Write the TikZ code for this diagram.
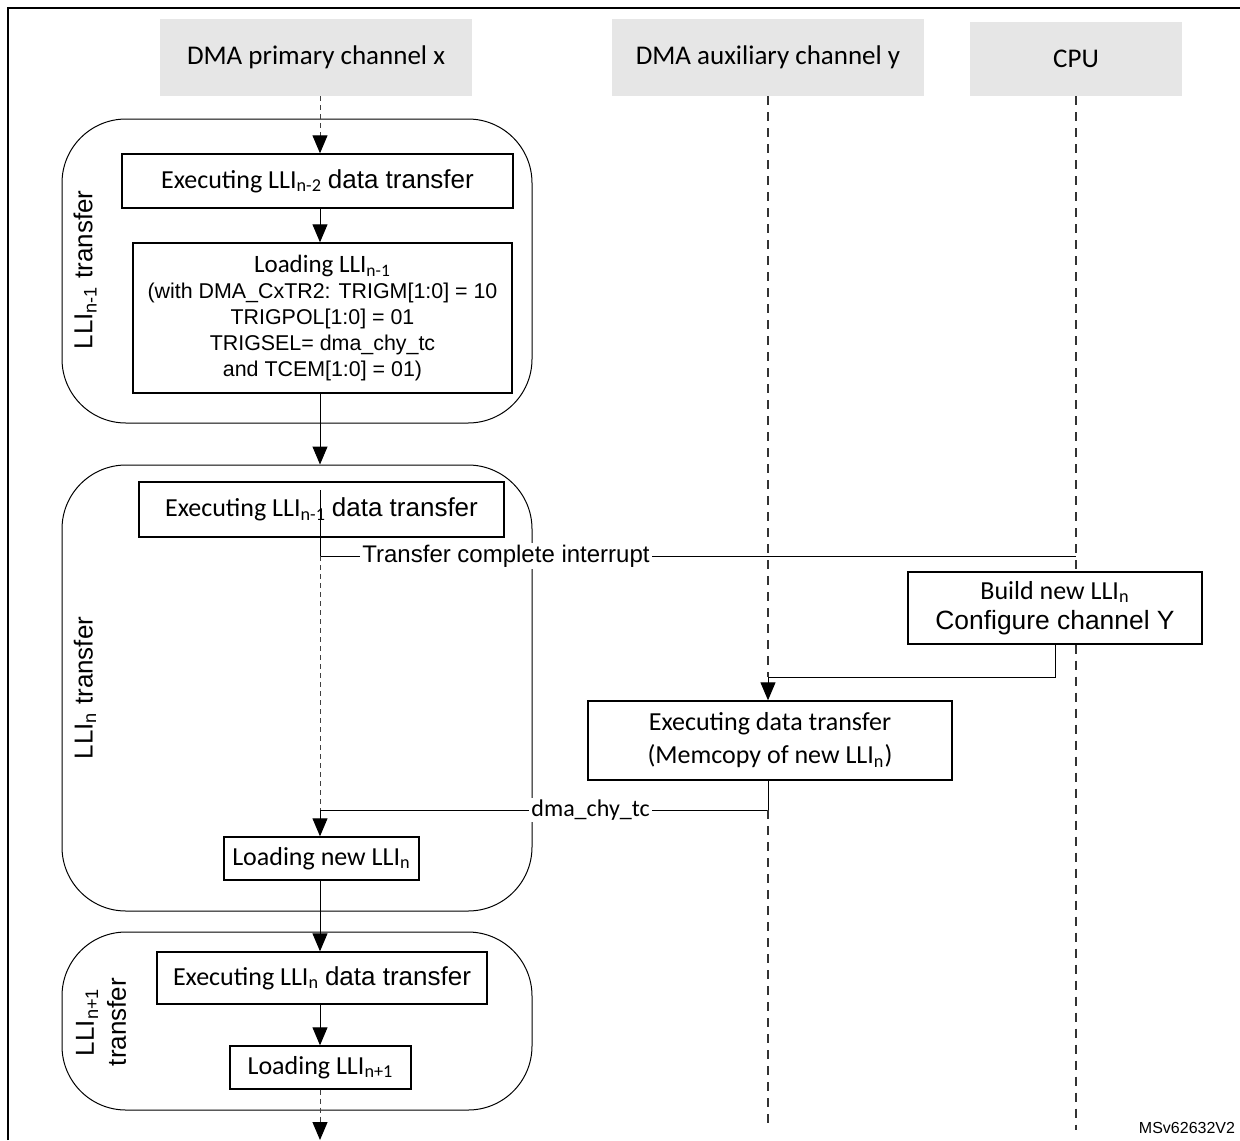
\documentclass[tikz,border=0pt]{standalone}
\usepackage{fontspec}
\setmainfont{Carlito}
\newfontfamily\arialfont{Liberation Sans}
\usetikzlibrary{arrows.meta,positioning}
\definecolor{hdrgray}{RGB}{230,230,230}
\tikzset{
  hdr/.style={fill=hdrgray, inner sep=0pt, font=\fontsize{13.5}{16}\selectfont},
  stepbox/.style={draw, fill=white, line width=0.7pt, inner sep=0pt, align=center, font=\fontsize{13}{16}\selectfont},
  phase/.style={draw, rounded corners=32pt, line width=0.5pt},
  life/.style={dash pattern=on 4.5pt off 3.5pt, line width=0.6pt, black!80},
  thinlife/.style={dash pattern=on 2.5pt off 2pt, line width=0.45pt, black!75},
  flow/.style={-{Triangle[length=9pt,width=7.5pt,color=black]}, line width=0.5pt},
  sig/.style={fill=white, inner sep=1pt, font=\arialfont\fontsize{12}{14}\selectfont},
  phaselbl/.style={rotate=90, align=center, font=\arialfont\fontsize{13}{16}\selectfont},
}
\begin{document}
\begin{tikzpicture}[x=0.5pt,y=-0.5pt]
\useasboundingbox (0,0) rectangle (1240,1140);
% frame
\draw[line width=1.1pt] (8,1140) -- (8,8) -- (1240,8);
% lanes
\node[hdr, minimum width=156pt, minimum height=38.5pt] (hx) at (316,57.5) {DMA primary channel x};
\node[hdr, minimum width=156pt, minimum height=38.5pt] (hy) at (768,57.5) {DMA auxiliary channel y};
\node[hdr, minimum width=106pt, minimum height=37pt] (hc) at (1076,59) {CPU};
\coordinate (px) at (320,0);
\coordinate (ax) at (768,0);
\coordinate (cx) at (1076,0);
% phases
\node[phase, minimum width=235pt, minimum height=152pt] (c1) at (297,271) {};
\node[phase, minimum width=235pt, minimum height=223pt] (c2) at (297,688) {};
\node[phase, minimum width=235pt, minimum height=89pt] (c3) at (297,1021) {};
\node[phaselbl] (t1) at (85,270) {LLI\textsubscript{n-1} transfer};
\node[phaselbl] (t2) at (85,688) {LLI\textsubscript{n} transfer};
\node[phaselbl] (t3) at (101,1022) {LLI\textsubscript{n+1}\\transfer};
% steps
\node[stepbox, minimum width=195.5pt, minimum height=27pt] (e2) at (317.5,181)
  {Executing LLI\textsubscript{n-2} {\arialfont data transfer}};
\node[stepbox, minimum width=189.5pt, minimum height=75pt, font=\arialfont\fontsize{10.7}{13}\selectfont] (l1) at (322.5,318)
  {{\normalfont\fontsize{12.5}{13}\selectfont Loading LLI\textsubscript{n-1}}\\
   (with DMA\_CxTR2: TRIGM[1:0] = 10\\
   TRIGPOL[1:0] = 01\\
   TRIGSEL= dma\_chy\_tc\\
   and TCEM[1:0] = 01)};
\node[stepbox, minimum width=182.5pt, minimum height=27.5pt] (e1) at (321.5,509.5)
  {Executing LLI\textsubscript{n-1} {\arialfont data transfer}};
\node[stepbox, minimum width=147pt, minimum height=36pt, font=\fontsize{13}{15}\selectfont] (build) at (1055,608)
  {Build new LLI\textsubscript{n}\\{\arialfont\fontsize{13.2}{15}\selectfont Configure channel Y}};
\node[stepbox, minimum width=182pt, minimum height=39.5pt, font=\fontsize{13}{16.5}\selectfont] (exy) at (770,740.5)
  {Executing data transfer\\(Memcopy of new LLI\textsubscript{n})};
\node[stepbox, minimum width=97.5pt, minimum height=21.5pt] (lnew) at (321.5,858.5) {Loading new LLI\textsubscript{n}};
\node[stepbox, minimum width=165pt, minimum height=26pt] (en) at (322,978)
  {Executing LLI\textsubscript{n} {\arialfont data transfer}};
\node[stepbox, minimum width=90.5pt, minimum height=21.5pt] (ln1) at (320.5,1067.5) {Loading LLI\textsubscript{n+1}};
% signals
\coordinate (irq) at (320,490);
\coordinate (irqE) at (1076,556);
\coordinate (ajoin) at (768,677);
\coordinate (tcR) at (768,810);
\coordinate (tcL) at (320,810);
\coordinate (bot) at (320,1140);
\coordinate (auxEnd) at (768,1127);
\coordinate (cpuEnd) at (1076,1130);
\draw[thinlife, flow] (hx.south -| px) -- (e2.north -| px);
\draw[flow] (e2.south -| px) -- (l1.north -| px);
\draw[flow] (l1.south -| px) -- (c2.north -| px);
\draw (irq) |- node[sig, pos=0.623] (tci) {Transfer complete interrupt} (irqE);
\draw[thinlife] (irq |- irqE) -- (tcL);
\draw[life] (hc.south -| cx) -- (build.north -| cx);
\draw[life] (build.south -| cx) -- (cpuEnd);
\draw[life] (hy.south -| ax) -- (ajoin);
\draw[flow] (build.south) |- (ajoin) -- (exy.north -| ax);
\draw[flow] (exy.south -| ax) -- (tcR) -- node[sig, pos=0.396, font=\fontsize{12}{14}\selectfont] (tcy) {dma\_chy\_tc} (tcL) -- (lnew.north -| tcL);
\draw[life] (tcR) -- (auxEnd);
\draw[flow] (lnew.south -| px) -- (en.north -| px);
\draw[flow] (en.south -| px) -- (ln1.north -| px);
\draw[thinlife, flow] (ln1.south -| px) -- (bot);
\node[font=\arialfont\fontsize{8}{10}\selectfont] (msv) at (1187,1128) {MSv62632V2};
\end{tikzpicture}
\end{document}
